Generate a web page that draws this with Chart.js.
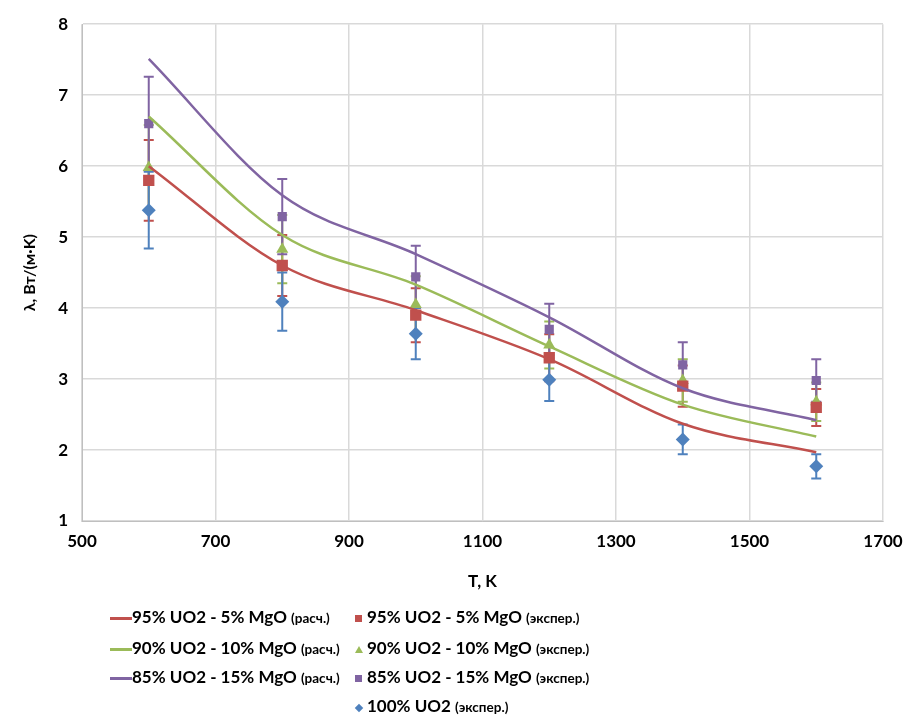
<!DOCTYPE html>
<html>
<head>
<meta charset="utf-8">
<script src="https://cdn.jsdelivr.net/npm/chart.js@4"></script>
<style>
  body { margin: 0; background: #fff; }
  #wrap { position: relative; width: 916px; height: 717px; }
  #legend { position: absolute; left: 0; top: 0; font-family: Lato, "Liberation Sans", sans-serif; font-weight: bold; color: #000; }
  .item { position: absolute; white-space: nowrap; font-size: 17px; line-height: 22px; }
  .item small { font-size: 13.5px; }
  .sw { position: absolute; }
</style>
</head>
<body>
<div id="wrap">
  <canvas id="chart" width="916" height="717"></canvas>
  <div id="legend"></div>
</div>
<script>
const temps = [600, 800, 1000, 1200, 1400, 1600];
const xTicks = [500, 700, 900, 1100, 1300, 1500, 1700];

// calculated curves
const calc95 = [6.0, 4.6, 3.97, 3.28, 2.37, 1.97];
const calc90 = [6.7, 5.03, 4.33, 3.46, 2.64, 2.19];
const calc85 = [7.51, 5.59, 4.76, 3.87, 2.87, 2.42];

// experiment points and their errors
const exp95 = [5.8, 4.6, 3.9, 3.3, 2.9, 2.6];
const err95 = [0.57, 0.43, 0.38, 0.33, 0.29, 0.26];
const exp90 = [5.98, 4.83, 4.05, 3.48, 2.98, 2.68];
const err90 = [0.6, 0.48, 0.4, 0.33, 0.3, 0.27];
const exp85 = [6.6, 5.29, 4.44, 3.7, 3.2, 2.98];
const err85 = [0.66, 0.53, 0.44, 0.36, 0.32, 0.3];
const exp100 = [5.38, 4.09, 3.64, 2.99, 2.15, 1.77];
const err100 = [0.54, 0.41, 0.36, 0.3, 0.21, 0.17];

const RED = "#c0504d", GREEN = "#9bbb59", PURPLE = "#8064a2", BLUE = "#4f81bd";

function pts(ys) {
  return temps.map((t, i) => ({ x: t, y: ys[i] }));
}

function lineSet(label, ys, color) {
  return {
    label: label, data: pts(ys), showLine: true, borderColor: color,
    borderWidth: 2.5, pointRadius: 0, cubicInterpolationMode: "monotone", fill: false
  };
}

function expSet(label, ys, errs, color, style, r) {
  return {
    label: label, data: pts(ys), showLine: false, errors: errs,
    pointStyle: style, pointRadius: r, backgroundColor: color, borderColor: color, borderWidth: 0
  };
}

const errorBars = {
  id: "errorBars",
  beforeDatasetsDraw(chart) {
    const ctx = chart.ctx;
    const xs = chart.scales.x, ys = chart.scales.y;
    chart.data.datasets.forEach(ds => {
      if (!ds.errors) return;
      ctx.save();
      ctx.strokeStyle = ds.borderColor;
      ctx.lineWidth = 2;
      ds.data.forEach((p, i) => {
        const px = xs.getPixelForValue(p.x);
        const top = ys.getPixelForValue(p.y + ds.errors[i]);
        const bot = ys.getPixelForValue(p.y - ds.errors[i]);
        ctx.beginPath();
        ctx.moveTo(px, top); ctx.lineTo(px, bot);
        ctx.moveTo(px - 5, top); ctx.lineTo(px + 5, top);
        ctx.moveTo(px - 5, bot); ctx.lineTo(px + 5, bot);
        ctx.stroke();
      });
      ctx.restore();
    });
  }
};

const tickFont = { family: "Lato, 'Liberation Sans', sans-serif", size: 17, weight: "bold" };

new Chart(document.getElementById("chart"), {
  type: "scatter",
  data: {
    datasets: [
      lineSet("95% UO2 - 5% MgO (расч.)", calc95, RED),
      lineSet("90% UO2 - 10% MgO (расч.)", calc90, GREEN),
      lineSet("85% UO2 - 15% MgO (расч.)", calc85, PURPLE),
      expSet("95% UO2 - 5% MgO (экспер.)", exp95, err95, RED, "rect", 8),
      expSet("90% UO2 - 10% MgO (экспер.)", exp90, err90, GREEN, "triangle", 7),
      expSet("85% UO2 - 15% MgO (экспер.)", exp85, err85, PURPLE, "rect", 6.5),
      expSet("100% UO2 (экспер.)", exp100, err100, BLUE, "rectRot", 7)
    ]
  },
  options: {
    responsive: false,
    animation: false,
    layout: { padding: { left: 0, right: 33, top: 21, bottom: 121 } },
    plugins: { legend: { display: false }, tooltip: { enabled: false } },
    scales: {
      x: {
        type: "linear", min: 500, max: 1700,
        afterBuildTicks: s => { s.ticks = xTicks.map(v => ({ value: v })); },
        afterFit: s => { s.height = 75; },
        grid: { color: "#d9d9d9", lineWidth: 1.5, tickLength: 0 },
        border: { color: "#bfbfbf" },
        ticks: { font: tickFont, color: "#000", padding: 10, maxRotation: 0, callback: v => String(v) },
        title: { display: true, text: "T, K", font: tickFont, color: "#000", padding: { top: 4 } }
      },
      y: {
        min: 1, max: 8,
        afterFit: s => { s.width = 82; },
        grid: { color: "#d9d9d9", lineWidth: 1.5, tickLength: 0 },
        border: { color: "#bfbfbf" },
        ticks: { stepSize: 1, font: tickFont, color: "#000", padding: 14 },
        title: { display: true, text: "λ, Вт/(м·K)", font: { family: tickFont.family, size: 16, weight: "bold" }, color: "#000", padding: { top: 20, bottom: 0 } }
      }
    }
  },
  plugins: [errorBars]
});

// legend below the chart, two columns
const legend = document.getElementById("legend");
const leftItems = [
  ["95% UO2 - 5% MgO", "(расч.)", RED],
  ["90% UO2 - 10% MgO", "(расч.)", GREEN],
  ["85% UO2 - 15% MgO", "(расч.)", PURPLE]
];
const rightItems = [
  ["95% UO2 - 5% MgO", "(экспер.)", RED, "sq"],
  ["90% UO2 - 10% MgO", "(экспер.)", GREEN, "tri"],
  ["85% UO2 - 15% MgO", "(экспер.)", PURPLE, "sq"],
  ["100% UO2", "(экспер.)", BLUE, "dia"]
];
const rowY = [618, 649, 678, 707];

leftItems.forEach((it, i) => {
  const sw = document.createElement("div");
  sw.className = "sw";
  sw.style.cssText = `left:110px;top:${rowY[i] - 1}px;width:22px;height:2.5px;background:${it[2]}`;
  legend.appendChild(sw);
  const t = document.createElement("div");
  t.className = "item";
  t.style.left = "132px"; t.style.top = (rowY[i] - 12) + "px";
  t.innerHTML = `${it[0]} <small>${it[1]}</small>`;
  legend.appendChild(t);
});

rightItems.forEach((it, i) => {
  const sw = document.createElement("div");
  sw.className = "sw";
  if (it[3] === "sq") {
    sw.style.cssText = `left:355px;top:${rowY[i] - 3}px;width:7px;height:7px;background:${it[2]}`;
  } else if (it[3] === "tri") {
    sw.style.cssText = `left:355px;top:${rowY[i] - 3}px;width:0;height:0;border-left:4px solid transparent;border-right:4px solid transparent;border-bottom:7px solid ${it[2]}`;
  } else {
    sw.style.cssText = `left:356px;top:${rowY[i] - 2}px;width:6px;height:6px;background:${it[2]};transform:rotate(45deg)`;
  }
  legend.appendChild(sw);
  const t = document.createElement("div");
  t.className = "item";
  t.style.left = "367px"; t.style.top = (rowY[i] - 12) + "px";
  t.innerHTML = `${it[0]} <small>${it[1]}</small>`;
  legend.appendChild(t);
});
</script>
</body>
</html>
